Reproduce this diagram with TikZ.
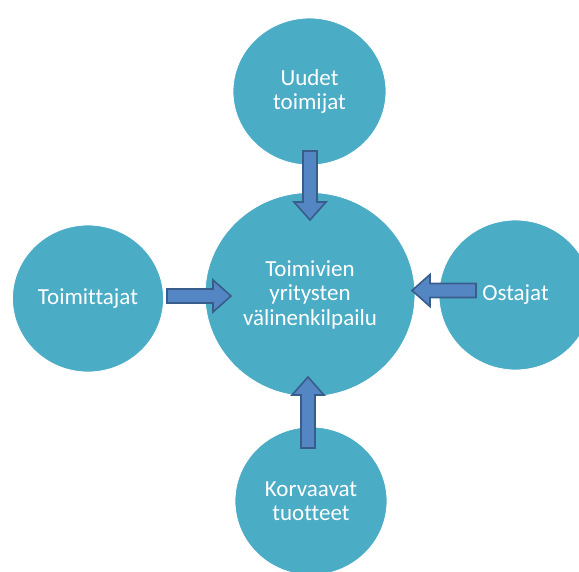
\documentclass[tikz,border=0pt]{standalone}
\usepackage{fontspec}
\setmainfont{Carlito}[Ligatures={NoCommon,NoContextual}]
\usetikzlibrary{calc,shapes.geometric}
\definecolor{discblue}{RGB}{75,172,198}
\definecolor{arrowblue}{RGB}{84,134,196}
\definecolor{arrowedge}{RGB}{56,93,138}

% block arrow from #1 (tail) to #2 (tip)
\newcommand\blockarrow[2]{%
  \path (#1) coordinate (tail) (#2) coordinate (tip)
        ($(#2)!18pt!(#1)$) coordinate (base);
  \draw[arrowbody]
    ($(tail)!7pt!90:(tip)$) -- ($(base)!7pt!90:(tip)$) --
    ($(base)!16pt!90:(tip)$) -- (tip) --
    ($(base)!16pt!-90:(tip)$) -- ($(base)!7pt!-90:(tip)$) --
    ($(tail)!7pt!-90:(tip)$) -- cycle;}

\begin{document}
\begin{tikzpicture}[x=1pt,y=-1pt,
  disc/.style={ellipse, fill=discblue, draw=white, line width=0.8pt,
    inner sep=0pt, outer sep=0pt, text=white, align=center,
    font=\fontsize{23}{24.5}\selectfont},
  arrowbody/.style={fill=arrowblue, draw=arrowedge, line width=1.6pt,
    line join=miter}]
\useasboundingbox (0,0) rectangle (579,571);
\clip (0,0) rectangle (579,571);

% forces around the rivalry
\node[disc, minimum width=153pt, minimum height=147pt] (new) at (309.5,91.5) {Uudet\\toimijat};
\node[disc, minimum width=210pt, minimum height=204pt] (core) at (310,294.5) {Toimivien\\yritysten\\välinenkilpailu};
\node[disc, minimum width=151pt, minimum height=147pt] (sup) at (88,298.5) {Toimittajat};
\node[disc, minimum width=153pt, minimum height=150pt] (buy) at (515.5,295) {Ostajat};
\node[disc, minimum width=152pt, minimum height=148pt] (sub) at (311,501) {Korvaavat\\tuotteet};

% arrow ends
\coordinate (newA) at ($(new.south)+(0.5,-14)$);
\coordinate (newB) at ($(core.north)+(0,27.5)$);
\coordinate (supA) at ($(sup.east)+(3.5,-2.5)$);
\coordinate (supB) at ($(core.west)+(26,1.5)$);
\coordinate (buyA) at ($(buy.west)+(37,-4.5)$);
\coordinate (buyB) at ($(core.east)+(-3,-4)$);
\coordinate (subA) at ($(sub.north)+(-3,21)$);
\coordinate (subB) at ($(core.south)+(-2,-19.5)$);

\blockarrow{newA}{newB}
\blockarrow{supA}{supB}
\blockarrow{buyA}{buyB}
\blockarrow{subA}{subB}
\end{tikzpicture}
\end{document}
